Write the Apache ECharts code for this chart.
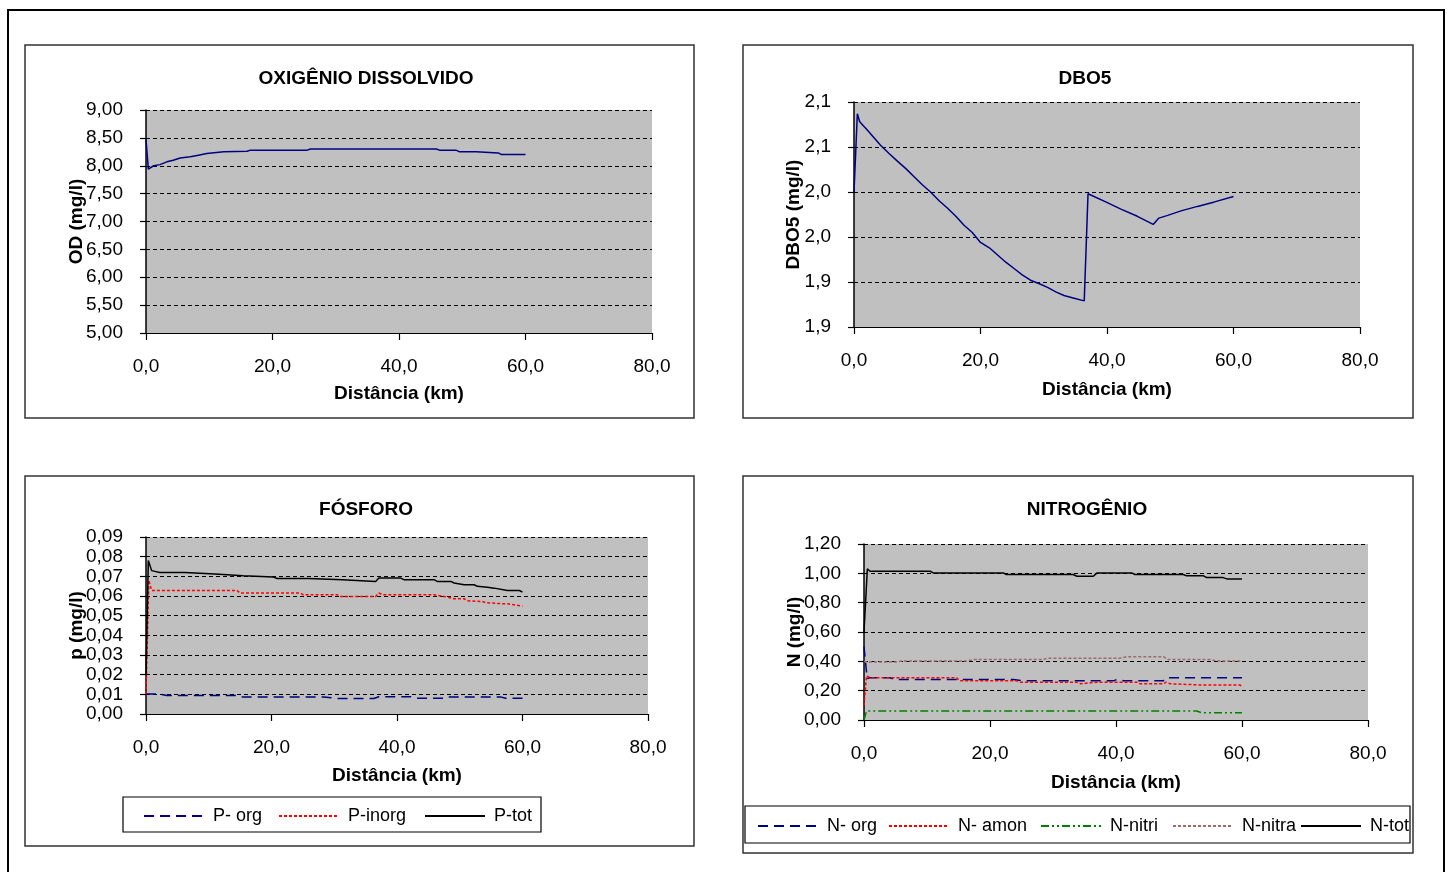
<!DOCTYPE html>
<html>
<head>
<meta charset="utf-8">
<script src="https://cdn.jsdelivr.net/npm/echarts@6/dist/echarts.min.js"></script>
<style>
html,body{margin:0;padding:0;background:#fff;}
#c{width:1448px;height:872px;}
</style>
</head>
<body>
<div id="c"></div>
<script>
// ---------- DATA ----------
const xTickLabels = ['0,0', '20,0', '40,0', '60,0', '80,0'];
const dboTickLabels = ['1,9', '1,9', '2,0', '2,0', '2,1', '2,1'];

// Oxigênio dissolvido
const odDist = [0, 0.37, 1.2, 2.2, 3.3, 4.3, 5.4, 7.0, 8.3, 9.6, 12.3, 16.0, 16.5, 25.5, 26.0, 45.9, 46.4, 49.0, 49.6, 52.2, 52.5, 55.7, 56.2, 60.0];
const odVal  = [8.47, 7.94, 8.00, 8.02, 8.07, 8.10, 8.14, 8.16, 8.19, 8.22, 8.25, 8.26, 8.28, 8.28, 8.30, 8.30, 8.28, 8.28, 8.25, 8.25, 8.23, 8.23, 8.20, 8.20];

// DBO5
const dboDist = [0, 0.53, 0.9, 2.1, 3.2, 4.2, 5.5, 6.9, 8.2, 9.5, 10.8, 12.1, 13.5, 14.8, 16.1, 17.4, 18.7, 20.0, 21.4, 22.7, 24.0, 25.3, 26.6, 27.9, 29.3, 30.6, 31.9, 33.2, 34.8, 36.4, 37.0, 39.8, 42.2, 44.8, 47.3, 48.2, 49.6, 51.7, 54.3, 57.0, 60.0];
const dboVal  = [2.000, 2.087, 2.078, 2.069, 2.060, 2.052, 2.043, 2.034, 2.026, 2.017, 2.008, 2.000, 1.990, 1.982, 1.973, 1.963, 1.955, 1.944, 1.938, 1.930, 1.922, 1.915, 1.908, 1.902, 1.898, 1.894, 1.889, 1.885, 1.882, 1.879, 1.998, 1.989, 1.981, 1.973, 1.964, 1.971, 1.974, 1.979, 1.984, 1.989, 1.995];

// Fósforo
const pTotDist = [0, 0.37, 0.9, 2.2, 6.2, 6.5, 11.0, 11.3, 15.5, 15.8, 20.3, 20.9, 25.9, 26.2, 31.3, 31.6, 36.6, 37.1, 40.6, 41.1, 45.9, 46.4, 48.6, 49.1, 50.7, 52.3, 52.8, 54.4, 55.5, 57.6, 59.5, 60.0];
const pTotVal  = [0.020, 0.078, 0.0729, 0.0720, 0.0720, 0.0712, 0.0712, 0.0703, 0.0703, 0.0696, 0.0696, 0.0689, 0.0689, 0.0683, 0.0683, 0.0674, 0.0674, 0.0691, 0.0691, 0.0683, 0.0683, 0.0674, 0.0674, 0.0666, 0.0657, 0.0657, 0.0649, 0.0645, 0.0640, 0.0628, 0.0628, 0.0620];
const pInorgDist = [0, 0.45, 0.9, 14.5, 15.0, 24.6, 25.1, 30.5, 31.0, 36.6, 37.1, 37.7, 45.9, 47.5, 49.1, 50.7, 51.2, 53.6, 54.1, 56.0, 57.6, 60.0];
const pInorgVal  = [0.010, 0.068, 0.0628, 0.0628, 0.0615, 0.0615, 0.0606, 0.0606, 0.0598, 0.0598, 0.0615, 0.0606, 0.0606, 0.0598, 0.0586, 0.0586, 0.0576, 0.0572, 0.0567, 0.0562, 0.0560, 0.0549];
const pOrgDist = [0, 2.2, 3.3, 14.5, 15.3, 28.3, 30.5, 36.3, 37.1, 42.2, 43.0, 47.5, 48.0, 56.5, 57.3, 60.0];
const pOrgVal  = [0.0102, 0.0102, 0.0094, 0.0094, 0.0087, 0.0087, 0.0079, 0.0079, 0.0088, 0.0088, 0.0080, 0.0080, 0.0087, 0.0087, 0.0080, 0.0080];

// Nitrogênio
const nTotDist = [0, 0.53, 0.95, 10.5, 11.0, 22.1, 22.6, 33.2, 33.8, 36.4, 37.0, 42.5, 43.0, 50.7, 51.2, 53.9, 54.4, 57.0, 57.6, 60.0];
const nTotVal  = [0.60, 1.030, 1.014, 1.014, 1.003, 1.003, 0.992, 0.992, 0.980, 0.980, 1.003, 1.003, 0.992, 0.992, 0.983, 0.983, 0.971, 0.971, 0.962, 0.962];
const nNitraDist = [0, 0.5, 5.2, 6.2, 16.3, 17.4, 28.5, 29.0, 40.6, 41.7, 47.5, 48.3, 54.9, 56.0, 60.0];
const nNitraVal  = [0.400, 0.396, 0.396, 0.403, 0.403, 0.412, 0.412, 0.421, 0.421, 0.432, 0.432, 0.412, 0.412, 0.403, 0.403];
const nOrgDist = [0, 0.5, 0.95, 4.1, 4.9, 23.7, 25.3, 39.6, 40.1, 41.2, 47.5, 48.0, 60.0];
const nOrgVal  = [0.50, 0.283, 0.288, 0.288, 0.276, 0.276, 0.267, 0.267, 0.276, 0.267, 0.267, 0.288, 0.288];
const nAmonDist = [0, 0.4, 0.95, 14.7, 15.2, 24.2, 24.8, 33.8, 34.4, 37.0, 43.3, 43.8, 47.5, 48.0, 48.6, 53.9, 59.7, 60.0];
const nAmonVal  = [0.10, 0.301, 0.288, 0.288, 0.267, 0.267, 0.258, 0.258, 0.247, 0.258, 0.258, 0.247, 0.247, 0.258, 0.247, 0.238, 0.238, 0.226];
const nNitriDist = [0, 0.4, 52.8, 53.6, 60.0];
const nNitriVal  = [0.0, 0.061, 0.061, 0.050, 0.050];

// ---------- CHART ----------
const font = '"Liberation Sans", Arial, sans-serif';
const zip = (xs, ys) => xs.map((x, i) => [x, ys[i]]);
const comma = (v, d) => v.toFixed(d).replace('.', ',');

const grids = [
  {left: 146, top: 110, width: 506, height: 223},
  {left: 854, top: 102, width: 506, height: 225},
  {left: 146, top: 537, width: 502, height: 177},
  {left: 864, top: 544, width: 504, height: 176}
].map(g => Object.assign(g, {show: true, backgroundColor: '#c0c0c0', borderWidth: 0, containLabel: false}));

function xAxis(i, gap) {
  return {
    type: 'value', gridIndex: i, min: 0, max: 80, interval: 20,
    axisLine: {onZero: false, lineStyle: {color: '#000', width: 1.2}},
    axisTick: {show: true, length: 7, lineStyle: {color: '#000', width: 1.2}},
    axisLabel: {margin: 24, fontSize: 19, color: '#000', fontFamily: font,
      formatter: v => xTickLabels[Math.round(v / 20)]},
    splitLine: {show: false},
    name: 'Distância (km)', nameLocation: 'middle', nameGap: gap, nameMoveOverlap: false,
    nameTextStyle: {fontWeight: 'bold', fontSize: 19, color: '#000', fontFamily: font}
  };
}
function yAxis(i, name, min, max, interval, fmt, gap) {
  return {
    type: 'value', gridIndex: i, min: min, max: max, interval: interval,
    axisLine: {show: true, lineStyle: {color: '#000', width: 1.5}},
    axisTick: {show: true, length: 6, lineStyle: {color: '#000', width: 1.2}},
    axisLabel: {margin: 23, fontSize: 19, color: '#000', fontFamily: font, formatter: fmt},
    splitLine: {show: true, lineStyle: {color: '#000', type: [4, 3], width: 1}},
    name: name, nameLocation: 'middle', nameGap: gap, nameRotate: 90, nameMoveOverlap: false,
    nameTextStyle: {fontWeight: 'bold', fontSize: 19, color: '#000', fontFamily: font}
  };
}

function line(name, i, xs, ys, color, type, width) {
  return {
    name: name, type: 'line', xAxisIndex: i, yAxisIndex: i,
    data: zip(xs, ys), symbol: 'none', showSymbol: false, animation: false,
    lineStyle: {color: color, type: type, width: width || 1.5}, itemStyle: {color: color}
  };
}

const titleStyle = {fontWeight: 'bold', fontSize: 19, color: '#000', fontFamily: font};
function legendItem(name, left, top) {
  return {
    data: [name], left: left, top: top, padding: 0,
    itemWidth: 60, itemHeight: 12, selectedMode: false,
    itemStyle: {color: 'rgba(0,0,0,0)', borderColor: 'rgba(0,0,0,0)', borderWidth: 0},
    textStyle: {fontSize: 18, color: '#000', fontFamily: font, padding: [0, 0, 0, 4]}
  };
}

function rect(x, y, w, h, color, lw) {
  return {type: 'rect', shape: {x: x, y: y, width: w, height: h}, silent: true, z: 100,
    style: {fill: null, stroke: color, lineWidth: lw}};
}

const option = {
  backgroundColor: '#fff',
  animation: false,
  title: [
    {text: 'OXIGÊNIO DISSOLVIDO', left: 361, top: 64, textAlign: 'center', textStyle: titleStyle},
    {text: 'DBO5', left: 1080, top: 64, textAlign: 'center', textStyle: titleStyle},
    {text: 'FÓSFORO', left: 361, top: 495, textAlign: 'center', textStyle: titleStyle},
    {text: 'NITROGÊNIO', left: 1082, top: 495, textAlign: 'center', textStyle: titleStyle}
  ],
  grid: grids,
  xAxis: [xAxis(0, 51), xAxis(1, 53), xAxis(2, 52), xAxis(3, 53)],
  yAxis: [
    yAxis(0, 'OD (mg/l)', 5, 9, 0.5, v => comma(v, 2), 60),
    yAxis(1, 'DBO5 (mg/l)', 1.85, 2.10, 0.05, v => dboTickLabels[Math.round((v - 1.85) / 0.05)], 51),
    yAxis(2, 'p (mg/l)', 0, 0.09, 0.01, v => comma(v, 2), 60),
    yAxis(3, 'N (mg/l)', 0, 1.2, 0.2, v => comma(v, 2), 60)
  ],
  legend: [
    legendItem('P- org', 143, 807),
    legendItem('P-inorg', 278, 807),
    legendItem('P-tot', 424, 807),
    legendItem('N- org', 757, 817),
    legendItem('N- amon', 888, 817),
    legendItem('N-nitri', 1040, 817),
    legendItem('N-nitra', 1172, 817),
    legendItem('N-tot', 1300, 817)
  ],
  series: [
    line('OD', 0, odDist, odVal, '#000080', 'solid', 1.5),
    line('DBO5', 1, dboDist, dboVal, '#000080', 'solid', 1.5),
    line('P- org', 2, pOrgDist, pOrgVal, '#000080', [10, 6], 1.5),
    line('P-inorg', 2, pInorgDist, pInorgVal, '#ff0000', [3, 2], 1.5),
    line('P-tot', 2, pTotDist, pTotVal, '#000000', 'solid', 1.5),
    line('N- org', 3, nOrgDist, nOrgVal, '#000080', [10, 6], 1.5),
    line('N- amon', 3, nAmonDist, nAmonVal, '#ff0000', [3, 2], 1.5),
    line('N-nitri', 3, nNitriDist, nNitriVal, '#008000', [8, 3, 2, 3, 2, 3], 1.5),
    line('N-nitra', 3, nNitraDist, nNitraVal, '#a06a6a', [3, 2], 1.5),
    line('N-tot', 3, nTotDist, nTotVal, '#000000', 'solid', 1.5)
  ],
  graphic: [
    rect(8, 10, 1436, 880, '#000', 2),
    rect(25, 45, 669, 373, '#333', 1.5),
    rect(743, 45, 670, 373, '#333', 1.5),
    rect(25, 476, 669, 370, '#333', 1.5),
    rect(743, 476, 670, 377, '#333', 1.5),
    rect(123, 797, 418, 35, '#000', 1.2),
    rect(745, 806, 665, 37, '#000', 1.2)
  ]
};

const chart = echarts.init(document.getElementById('c'), null, {renderer: 'canvas'});
chart.setOption(option);
</script>
</body>
</html>
